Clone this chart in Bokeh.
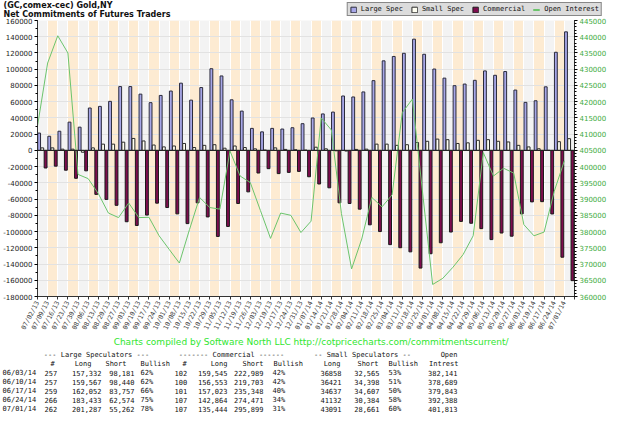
import numpy as np
from bokeh.plotting import figure
from bokeh.models import (ColumnDataSource, Range1d, LinearAxis, FixedTicker, SingleIntervalTicker,
                          NumeralTickFormatter, Legend, LegendItem, Span)
from bokeh.transform import dodge
from bokeh.embed import file_html
from bokeh.resources import INLINE
from bokeh.core.properties import value

# ---------------- chart data ----------------
dates = ["07/02/13", "07/09/13", "07/16/13", "07/23/13", "07/30/13", "08/06/13", "08/13/13", "08/20/13",
         "08/27/13", "09/03/13", "09/10/13", "09/17/13", "09/24/13", "10/01/13", "10/08/13", "10/15/13",
         "10/22/13", "10/29/13", "11/05/13", "11/12/13", "11/19/13", "11/26/13", "12/03/13", "12/10/13",
         "12/17/13", "12/24/13", "12/31/13", "01/07/14", "01/14/14", "01/21/14", "01/28/14", "02/04/14",
         "02/11/14", "02/18/14", "02/25/14", "03/04/14", "03/11/14", "03/18/14", "03/25/14", "04/01/14",
         "04/08/14", "04/15/14", "04/22/14", "04/29/14", "05/06/14", "05/13/14", "05/20/14", "05/27/14",
         "06/03/14", "06/10/14", "06/17/14", "06/24/14", "07/01/14"]

large_spec = [21300, 17400, 23600, 34800, 28600, 52200, 54200, 60400, 78600, 78600, 69300, 58800, 67700,
              73100, 82800, 61900, 77400, 100600, 91700, 62300, 48400, 27100, 22800, 27100, 26300, 27900,
              32900, 39900, 44900, 47200, 67000, 65800, 72000, 85900, 110300, 115700, 119600, 137000,
              118400, 100200, 89000, 79700, 81700, 86300, 97900, 92500, 97100, 74300, 59151, 61127, 78295,
              120859, 146025]

small_spec = [3100, 3100, 1500, 1500, -2300, 3100, 7700, 7700, 10100, 14700, 11600, 6600, 4300, 5400, 8500,
              3500, 6200, 7000, 2700, 5400, 3500, 1900, 400, 3100, 1200, 800, 400, 3900, 1900, -500, -800,
              1200, 1500, 7700, 7700, 6200, 7000, 9700, 11200, 13900, 13200, 8500, 9300, 12400, 13200, 11200,
              10400, 6200, 4293, 2023, 30, 10748, 14430]

commercial = [-21700, -19400, -24400, -34400, -25200, -54200, -60400, -67700, -87900, -92500, -79700, -65000,
              -70400, -78200, -90200, -64600, -82000, -106000, -93700, -65400, -51100, -27900, -22500, -28600,
              -27100, -25900, -32500, -41400, -46100, -64600, -65400, -72400, -91700, -100000, -116100,
              -119900, -125000, -145000, -127300, -113800, -100600, -87500, -89800, -96400, -109900, -101800,
              -105700, -78200, -63444, -63150, -78325, -131607, -160455]

open_interest = [412500, 431900, 440300, 435000, 397600, 396300, 391700, 385700, 384300, 388800, 384300,
                 384400, 378700, 374500, 370300, 380600, 390500, 387400, 386900, 404800, 397100, 395100,
                 386500, 377900, 385700, 385000, 379700, 383200, 415000, 411300, 385500, 368500, 377700,
                 390500, 387600, 391300, 416600, 420800, 392200, 363700, 365600, 369000, 372900, 378700,
                 404300, 397100, 399500, 398000, 382141, 378689, 379843, 392388, 401813]

# ---------------- table data ----------------
tbl_dates = ["06/03/14", "06/10/14", "06/17/14", "06/24/14", "07/01/14"]
ls_traders = [257, 257, 259, 266, 262]
ls_long = [157332, 159567, 162052, 183433, 201287]
ls_short = [98181, 98440, 83757, 62574, 55262]
ls_bullish = [62, 62, 66, 75, 78]
cm_traders = [102, 100, 101, 107, 107]
cm_long = [159545, 156553, 157023, 142864, 135444]
cm_short = [222989, 219703, 235348, 274471, 295899]
cm_bullish = [42, 42, 40, 34, 31]
ss_long = [36858, 36421, 34637, 41132, 43091]
ss_short = [32565, 34398, 34607, 30384, 28661]
ss_bullish = [53, 51, 50, 58, 60]
tbl_open_interest = [382141, 378689, 379843, 392388, 401813]

title_1 = "(GC,comex-cec) Gold,NY"
title_2 = "Net Commitments of Futures Traders"
credit = "Charts compiled by Software North LLC  http://cotpricecharts.com/commitmentscurrent/"
legend_labels = ["Large Spec", "Small Spec", "Commercial", "Open Interest"]

BLUE, WHITE, PURPLE, GREEN = "#a7a7e8", "#fffff2", "#7e0c4e", "#6cc46c"
W = 604

n = len(dates)
idx = np.arange(n)
src = ColumnDataSource(dict(x=idx, ls=large_spec, ss=small_spec, cm=commercial, oi=open_interest))

# ---------------- header: titles + legend ----------------
HH = 17
h = figure(width=W, height=HH, x_range=Range1d(0, W), y_range=Range1d(HH, 0),
           x_axis_location=None, y_axis_location=None,
           output_backend="svg", toolbar_location=None, min_border=0, outline_line_color=None)
h.grid.visible = False
h.text(x=[3, 3], y=[5, 13.5], text=[title_1, title_2], text_font=value("DejaVu Sans"),
       text_font_size="8px", text_font_style="bold", text_color="#111111", text_baseline="middle")
# legend-only renderers (hidden; they just carry the swatch styles)
d_ls = h.vbar(x="x", top="ls", width=1, source=src, fill_color=BLUE, line_color="#2a2a3a", visible=False)
d_ss = h.vbar(x="x", top="ss", width=1, source=src, fill_color=WHITE, line_color="#2a2a2a", visible=False)
d_cm = h.vbar(x="x", top="cm", width=1, source=src, fill_color=PURPLE, line_color="#1a1a1a", visible=False)
d_oi = h.line(x="x", y="oi", source=src, line_color=GREEN, line_width=2, visible=False)
legend = Legend(items=[LegendItem(label=legend_labels[0], renderers=[d_ls]),
                       LegendItem(label=legend_labels[1], renderers=[d_ss]),
                       LegendItem(label=legend_labels[2], renderers=[d_cm]),
                       LegendItem(label=legend_labels[3], renderers=[d_oi])],
                orientation="horizontal", location="top_right",
                label_text_font="DejaVu Sans Mono", label_text_font_size="7px", label_text_color="#111111",
                glyph_width=7, glyph_height=7, label_standoff=4, spacing=8, padding=2, margin=2,
                background_fill_color="#dcdcdc", background_fill_alpha=1,
                border_line_color="#333333", border_line_width=1, label_height=7)
h.add_layout(legend)

# ---------------- chart ----------------
p = figure(frame_width=537, frame_height=276, x_range=Range1d(0, n), y_range=Range1d(-180000, 160000),
           output_backend="svg", toolbar_location=None,
           min_border_left=34, min_border_right=33, min_border_top=3, min_border_bottom=0,
           background_fill_color="#f3f3f3", border_fill_color="white", outline_line_color=None)
p.extra_y_ranges = {"oi": Range1d(360000, 445000)}

stripe = idx[1::2]
p.quad(left=stripe, right=stripe + 1, bottom=-180000, top=160000,
       fill_color="#fdebd2", line_color=None, level="image")

p.vbar(x=dodge("x", 0.16, range=p.x_range), top="ls", bottom=0, width=0.28, source=src,
       fill_color=BLUE, line_color="#2a2a3a", line_width=1)
p.vbar(x=dodge("x", 0.47, range=p.x_range), top="ss", bottom=0, width=0.28, source=src,
       fill_color=WHITE, line_color="#2a2a2a", line_width=1)
p.vbar(x=dodge("x", 0.80, range=p.x_range), top="cm", bottom=0, width=0.28, source=src,
       fill_color=PURPLE, line_color="#1a1a1a", line_width=1)
p.line(x="x", y="oi", source=src, y_range_name="oi", line_color=GREEN, line_width=1)

p.add_layout(Span(location=0, dimension="width", line_color="#222222", line_width=1))

# x axis
p.xaxis.ticker = FixedTicker(ticks=list(range(n + 1)))
overrides = {i: d for i, d in enumerate(dates)}
overrides[n] = ""
p.xaxis.major_label_overrides = overrides
p.xaxis.major_label_orientation = 1.1
p.xaxis.major_label_text_font = "DejaVu Sans Mono"
p.xaxis.major_label_text_font_size = "6.5px"
p.xaxis.major_label_standoff = 2
p.xaxis.major_tick_out = 3
p.xaxis.major_tick_in = 0
p.xaxis.minor_tick_line_color = None
p.xaxis.axis_line_color = "#333333"
p.xaxis.major_tick_line_color = "#333333"

# left axis
p.yaxis.ticker = SingleIntervalTicker(interval=20000, num_minor_ticks=2)
p.yaxis.formatter = NumeralTickFormatter(format="0")
p.yaxis.major_label_text_font = "DejaVu Sans"
p.yaxis.major_label_text_font_size = "7px"
p.yaxis.major_label_text_color = "#222222"
p.yaxis.major_label_standoff = 2
p.yaxis.major_tick_out = 3
p.yaxis.major_tick_in = 0
p.yaxis.minor_tick_out = 2
p.yaxis.minor_tick_in = 0
p.yaxis.axis_line_color = "#333333"

# right axis
ax_r = LinearAxis(y_range_name="oi", ticker=SingleIntervalTicker(interval=5000, num_minor_ticks=5),
                  formatter=NumeralTickFormatter(format="0"))
ax_r.major_label_text_font = "DejaVu Sans"
ax_r.major_label_text_font_size = "7px"
ax_r.major_label_text_color = "#3caa3c"
ax_r.major_label_standoff = 2
ax_r.major_tick_out = 3
ax_r.major_tick_in = 0
ax_r.minor_tick_out = 2
ax_r.minor_tick_in = 0
ax_r.axis_line_color = "#333333"
p.add_layout(ax_r, "right")

p.ygrid.grid_line_color = "#e2e2e2"
p.xgrid.grid_line_color = "white"

# ---------------- table ----------------
H2 = 77
t = figure(width=W, height=H2, x_range=Range1d(0, W), y_range=Range1d(H2, 0),
           x_axis_location=None, y_axis_location=None,
           output_backend="svg", toolbar_location=None, min_border=0, outline_line_color=None)
t.grid.visible = False

t.text(x=[312], y=[5], text=[credit], text_font=value("DejaVu Sans"), text_font_size="9px",
       text_color="#2fe62f", text_align="center", text_baseline="middle")

mono = value("DejaVu Sans Mono")
fs = "7px"
y_head, y_cols, y_row0, dy = 18, 27, 36, 9

def put(xs, ys, texts, align):
    t.text(x=xs, y=ys, text=texts, text_font=mono, text_font_size=fs, text_color="#111111",
           text_align=align, text_baseline="middle")

put([96, 231, 362], [y_head] * 3,
    ["--- Large Speculators ---", "------- Commercial ------", "-- Small Speculators --"], "center")
put([457], [y_head], ["Open"], "right")
put([52, 184], [y_cols] * 2, ["#", "#"], "center")
put([91, 126, 227, 263, 340, 378, 458], [y_cols] * 7,
    ["Long", "Short", "Long", "Short", "Long", "Short", "Intrest"], "right")
put([140, 273, 388], [y_cols] * 3, ["Bullish"] * 3, "left")

rows_y = [y_row0 + k * dy for k in range(len(tbl_dates))]
left_cols = [(2, tbl_dates), (44, [str(v) for v in ls_traders]), (140, [f"{v}%" for v in ls_bullish]),
             (174, [str(v) for v in cm_traders]), (272, [f"{v}%" for v in cm_bullish]),
             (388, [f"{v}%" for v in ss_bullish])]
right_cols = [(101, [f"{v:,}" for v in ls_long]), (134, [f"{v:,}" for v in ls_short]),
              (227, [f"{v:,}" for v in cm_long]), (263, [f"{v:,}" for v in cm_short]),
              (341, [str(v) for v in ss_long]), (379, [f"{v:,}" for v in ss_short]),
              (457, [f"{v:,}" for v in tbl_open_interest])]
for cx, vals in left_cols:
    put([cx] * len(vals), rows_y, vals, "left")
for cx, vals in right_cols:
    put([cx] * len(vals), rows_y, vals, "right")

# separate roots so the header and table canvases are not frame-aligned with the chart
open("out.html", "w").write(file_html([h, p, t], INLINE))
